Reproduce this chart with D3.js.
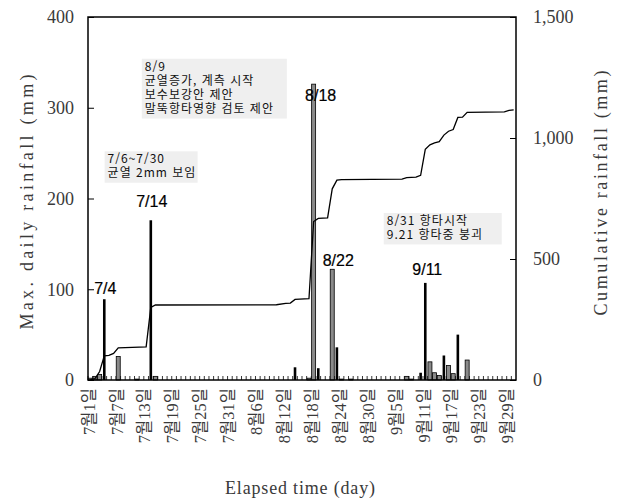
<!DOCTYPE html>
<html lang="ko">
<head>
<meta charset="UTF-8">
<title>Max. daily rainfall / Cumulative rainfall</title>
<script src="https://d3js.org/d3.v7.min.js"></script>
<style>
  body { margin: 0; background: #fff; }
  .serif { font-family: "Liberation Serif", "Noto Sans CJK KR", serif; fill: #3a3a3a; }
  .note { font-family: "Noto Sans CJK KR", sans-serif; font-size: 12px; letter-spacing: 1px; fill: #111; }
  .tag { font-family: "Liberation Sans", Arial, sans-serif; font-size: 16px; fill: #000; stroke: #000; stroke-width: 0.2px; }
</style>
</head>
<body>
<script>
// calendar, Jul 1 .. Sep 30 (one band per day)
const days = d3.timeDay.range(new Date(2000, 6, 1), new Date(2000, 9, 1))
  .map(d => `${d.getMonth() + 1}/${d.getDate()}`);

const tickDays = ["7/1", "7/7", "7/13", "7/19", "7/25", "7/31", "8/6", "8/12",
  "8/18", "8/24", "8/30", "9/5", "9/11", "9/17", "9/23", "9/29"];
const tickLabels = ["7월1일", "7월7일", "7월13일", "7월19일", "7월25일", "7월31일", "8월6일", "8월12일",
  "8월18일", "8월24일", "8월30일", "9월5일", "9월11일", "9월17일", "9월23일", "9월29일"];

const leftTicks = [0, 100, 200, 300, 400];
const rightTicks = [0, 500, 1000, 1500];

// max. daily rainfall (mm), narrow black bars
const blackDays = ["7/4", "7/14", "8/14", "8/19", "8/23", "9/10", "9/11", "9/15", "9/18"];
const blackRain = [89, 176, 14, 13, 36, 8, 107, 27, 50];

// max. daily rainfall (mm), grey bars
const greyDays = ["7/1", "7/2", "7/3", "7/7", "7/11", "7/15", "8/17", "8/18", "8/22", "8/24",
  "8/26", "9/7", "9/8", "9/12", "9/13", "9/14", "9/16", "9/17", "9/20"];
const greyRain = [2, 4, 6, 26, 1, 4, 2, 326, 122, 1, 1, 4, 1, 20, 8, 5, 16, 7, 22];

// cumulative rainfall (mm)
const cumDays = ["7/1", "7/2", "7/3", "7/4", "7/5", "7/6", "7/7", "7/13", "7/14", "7/15", "8/10",
  "8/12", "8/13", "8/14", "8/17", "8/18", "8/19", "8/21", "8/22", "8/23", "8/24", "9/6", "9/7",
  "9/9", "9/10", "9/11", "9/12", "9/13", "9/14", "9/15", "9/16", "9/17", "9/18", "9/19", "9/20",
  "9/28", "9/29", "9/30"];
const cumRain = [2, 6, 35, 100, 102, 110, 133, 137, 300, 310, 311,
  317, 318, 333, 336, 655, 668, 670, 790, 826, 828, 830, 836,
  838, 846, 953, 972, 980, 985, 1012, 1028, 1035, 1085, 1086, 1106,
  1108, 1114, 1116];

const tags = ["7/4", "7/14", "8/18", "8/22", "9/11"];

const notes = [
  { lines: ["7/6~7/30", "균열 2mm 보임"] },
  { lines: ["8/9", "균열증가, 계측 시작", "보수보강안 제안", "말뚝항타영향 검토 제안"] },
  { lines: ["8/31 항타시작", "9.21 항타중 붕괴"] }
];

const width = 619, height = 499;
const plotL = 88, plotR = 516, plotT = 17, plotB = 380;

const svg = d3.select("body").append("svg")
  .attr("width", width)
  .attr("height", height);

const x = d3.scaleBand().domain(days).range([plotL, plotR]);
const bw = x.bandwidth();
const cx = d => x(d) + bw / 2;
const yL = d3.scaleLinear().domain([0, 400]).range([plotB, plotT]);
const yR = d3.scaleLinear().domain([0, 1500]).range([plotB, plotT]);

// annotation boxes (behind everything)
const notePos = [
  { day: "7/5", v: 252, w: 93 },
  { day: "7/13", v: 354, w: 145 },
  { day: "9/3", v: 184, w: 118 }
];
const lineH = 14.2;
notes.forEach((n, i) => {
  const p = notePos[i];
  const g = svg.append("g").attr("transform", `translate(${x(p.day) - 2},${yL(p.v)})`);
  g.append("rect")
    .attr("width", p.w)
    .attr("height", n.lines.length * lineH + 3)
    .attr("fill", "#efefef");
  g.selectAll("text").data(n.lines).enter().append("text")
    .attr("class", "note")
    .attr("x", 3)
    .attr("y", (d, j) => 12 + j * lineH)
    .text(d => d);
});

// small day ticks along the bottom
svg.append("g").selectAll("line")
  .data(days).enter().append("line")
  .attr("x1", d => x(d)).attr("x2", d => x(d))
  .attr("y1", plotB).attr("y2", plotB - 4)
  .attr("stroke", "#000").attr("stroke-width", 0.8);

// bars
svg.append("g").selectAll("rect")
  .data(greyDays).enter().append("rect")
  .attr("x", d => cx(d) - 2)
  .attr("width", 4)
  .attr("y", (d, i) => yL(greyRain[i]))
  .attr("height", (d, i) => plotB - yL(greyRain[i]))
  .attr("fill", "#8a8a8a")
  .attr("stroke", "#000")
  .attr("stroke-width", 0.8);

svg.append("g").selectAll("rect")
  .data(blackDays).enter().append("rect")
  .attr("x", d => cx(d) - 1.3)
  .attr("width", 2.6)
  .attr("y", (d, i) => yL(blackRain[i]))
  .attr("height", (d, i) => plotB - yL(blackRain[i]))
  .attr("fill", "#000");

// cumulative line
const line = d3.line()
  .x(d => cx(d))
  .y((d, i) => yR(cumRain[i]));
svg.append("path")
  .attr("d", line(cumDays))
  .attr("fill", "none")
  .attr("stroke", "#000")
  .attr("stroke-width", 1.3);

// frame
svg.append("rect")
  .attr("x", plotL).attr("y", plotT)
  .attr("width", plotR - plotL).attr("height", plotB - plotT)
  .attr("fill", "none").attr("stroke", "#000").attr("stroke-width", 1.5);

// axes
const axL = svg.append("g").attr("transform", `translate(${plotL},0)`)
  .call(d3.axisLeft(yL).tickValues(leftTicks).tickSize(-6).tickPadding(14));
const axR = svg.append("g").attr("transform", `translate(${plotR},0)`)
  .call(d3.axisRight(yR).tickValues(rightTicks).tickSize(-6).tickPadding(17)
    .tickFormat(d3.format(",")));
[axL, axR].forEach(a => {
  a.select(".domain").remove();
  a.selectAll("line").attr("stroke", "#000");
  a.selectAll("text").attr("class", "serif").attr("font-size", 18);
  a.attr("font-family", null).attr("font-size", null);
});

// x tick labels (rotated)
svg.append("g").selectAll("text")
  .data(tickDays).enter().append("text")
  .attr("class", "serif")
  .attr("font-size", 16.5)
  .attr("text-anchor", "end")
  .attr("transform", d => `translate(${cx(d) - 1.5},${plotB + 8}) rotate(-90)`)
  .attr("dy", "0.35em")
  .text((d, i) => tickLabels[i]);

// peak tags
const tagOff = { "7/4": [1, -5], "7/14": [1, -13], "8/18": [7, 17], "8/22": [6, -3], "9/11": [2, -8] };
const valueOf = d => {
  const i = blackDays.indexOf(d);
  return i >= 0 ? blackRain[i] : greyRain[greyDays.indexOf(d)];
};
svg.append("g").selectAll("text")
  .data(tags).enter().append("text")
  .attr("class", "tag")
  .attr("text-anchor", "middle")
  .attr("x", d => cx(d) + tagOff[d][0])
  .attr("y", d => yL(valueOf(d)) + tagOff[d][1])
  .text(d => d);

// axis titles
svg.append("text")
  .attr("class", "serif")
  .attr("font-size", 18)
  .attr("text-anchor", "middle")
  .attr("textLength", 255)
  .attr("lengthAdjust", "spacing")
  .attr("transform", "translate(27,202) rotate(-90)")
  .attr("dy", "0.35em")
  .text("Max. daily rainfall (mm)");

svg.append("text")
  .attr("class", "serif")
  .attr("font-size", 18)
  .attr("text-anchor", "middle")
  .attr("textLength", 245)
  .attr("lengthAdjust", "spacing")
  .attr("transform", "translate(601,193) rotate(-90)")
  .attr("dy", "0.35em")
  .text("Cumulative rainfall (mm)");

svg.append("text")
  .attr("class", "serif")
  .attr("font-size", 18)
  .attr("text-anchor", "middle")
  .attr("textLength", 150)
  .attr("lengthAdjust", "spacing")
  .attr("x", 300).attr("y", 494)
  .text("Elapsed time (day)");
</script>
</body>
</html>
